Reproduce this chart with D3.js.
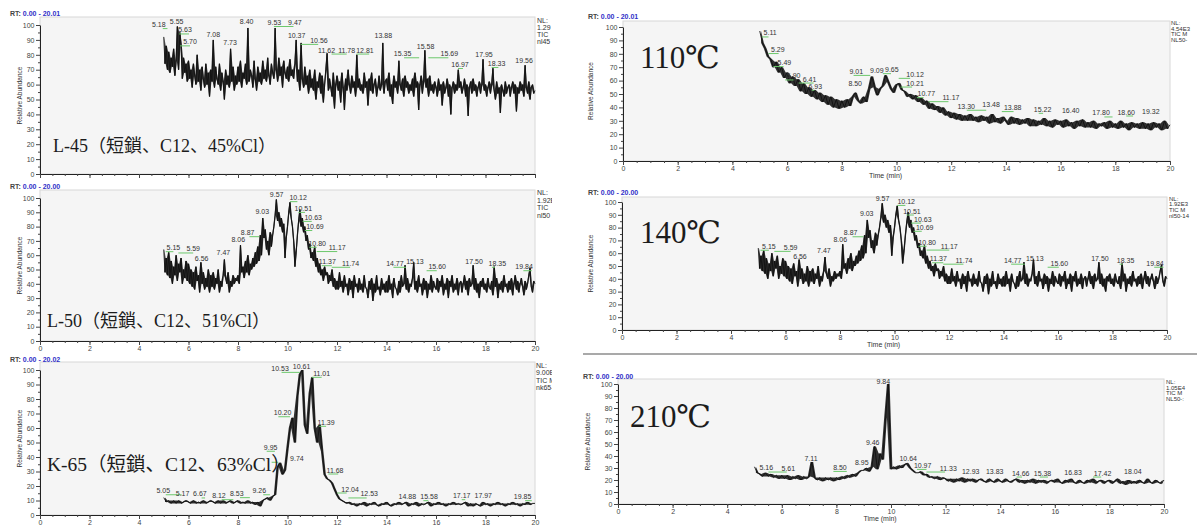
<!DOCTYPE html>
<html>
<head>
<meta charset="utf-8">
<script src="https://cdn.jsdelivr.net/npm/d3@7"></script>
<style>
  body { margin: 0; background: #fff; }
  svg { display: block; }
</style>
</head>
<body>
<svg id="fig"></svg>
<script>
// scan grids (min): the noisy L-series are read every 0.05 min, the rest every 0.1 min
const fineTimes = d3.range(500, 2001, 5).map(d => d / 100);
const coarseTimes = d3.range(50, 201).map(d => d / 10);

const xTicks = [0, 2, 4, 6, 8, 10, 12, 14, 16, 18, 20];
const yTicks = [0, 10, 20, 30, 40, 50, 60, 70, 80, 90, 100];

// TIC traces (relative abundance, %), one row per minute
const l45 = [
  92, 74, 86, 70, 82, 68, 78, 72, 84, 66, 76, 99, 70, 95, 87, 64, 78, 68, 74, 62,
  76, 64, 70, 58, 74, 66, 60, 80, 62, 70, 56, 72, 64, 58, 74, 60, 68, 52, 70, 62,
  90, 58, 72, 64, 60, 74, 56, 68, 62, 50, 70, 60, 66, 58, 84, 62, 72, 56, 66, 60,
  72, 62, 76, 58, 68, 64, 74, 60, 98, 62, 70, 66, 58, 76, 64, 56, 72, 62, 68, 60,
  76, 64, 70, 62, 78, 66, 60, 74, 68, 64, 98, 70, 62, 78, 66, 72, 58, 76, 68, 64,
  72, 62, 77, 66, 70, 64, 74, 90, 62, 70, 56, 88, 64, 58, 72, 60, 66, 54, 70, 58,
  64, 56, 70, 50, 62, 58, 68, 54, 66, 48, 60, 70, 81, 56, 64, 58, 52, 68, 44, 60,
  66, 56, 62, 48, 68, 58, 43, 64, 56, 70, 60, 54, 66, 58, 62, 52, 80, 58, 64, 56,
  60, 54, 68, 58, 62, 46, 64, 56, 68, 54, 60, 64, 52, 58, 66, 56, 60, 88, 54, 62,
  64, 56, 68, 52, 60, 47, 66, 58, 62, 54, 76, 60, 56, 64, 52, 66, 58, 62, 54, 60,
  56, 64, 52, 68, 58, 62, 43, 60, 66, 54, 62, 83, 58, 64, 52, 66, 56, 60, 54, 62,
  58, 52, 64, 56, 60, 46, 62, 54, 58, 64, 52, 60, 40, 58, 62, 54, 60, 56, 70, 58,
  62, 54, 58, 64, 52, 60, 39, 58, 62, 54, 64, 56, 60, 52, 58, 62, 54, 60, 77, 56,
  60, 52, 58, 62, 54, 60, 71, 56, 50, 62, 54, 58, 41, 60, 56, 52, 62, 54, 58, 60,
  52, 58, 62, 54, 60, 42, 58, 54, 62, 56, 60, 52, 73, 58, 54, 62, 50, 58, 60, 54,
  56];

// L-50 (the same run is pasted again as 140℃)
const l50 = [
  64, 48, 58, 46, 62, 44, 56, 40, 52, 46, 60, 42, 54, 48, 58, 40, 50, 44, 56, 42,
  54, 40, 50, 38, 48, 36, 52, 42, 46, 34, 55, 40, 48, 36, 44, 38, 50, 34, 46, 38,
  48, 36, 44, 40, 50, 34, 42, 38, 46, 57, 44, 40, 48, 34, 42, 38, 46, 40, 44, 42,
  46, 40, 67, 48, 52, 44, 56, 48, 60, 46, 54, 50, 58, 52, 62, 54, 66, 56, 74, 60,
  86, 72, 78, 64, 70, 60, 76, 66, 74, 80, 88, 99, 84, 90, 80, 86, 76, 82, 58, 72,
  80, 90, 97, 86, 80, 70, 52, 62, 74, 84, 92, 80, 86, 76, 80, 70, 74, 64, 68, 58,
  62, 56, 66, 52, 58, 48, 54, 46, 50, 42, 52, 46, 48, 40, 46, 42, 50, 38, 44, 36,
  42, 36, 48, 38, 42, 34, 46, 38, 40, 32, 44, 36, 42, 30, 46, 38, 40, 34, 44, 36,
  40, 34, 46, 38, 36, 30, 42, 36, 44, 28, 40, 34, 46, 36, 38, 32, 44, 36, 40, 34,
  42, 34, 46, 36, 40, 30, 44, 38, 36, 32, 42, 34, 46, 38, 40, 53, 36, 44, 34, 40,
  38, 44, 55, 36, 42, 34, 46, 38, 40, 32, 44, 36, 42, 30, 40, 36, 46, 34, 42, 38,
  36, 44, 34, 42, 38, 46, 32, 40, 36, 44, 30, 42, 38, 46, 34, 40, 36, 44, 32, 40,
  42, 34, 40, 46, 36, 42, 32, 44, 38, 40, 53, 36, 44, 34, 40, 30, 42, 38, 44, 36,
  40, 34, 44, 38, 36, 42, 32, 52, 38, 44, 30, 40, 36, 42, 34, 46, 38, 40, 34, 42,
  36, 44, 32, 40, 46, 36, 42, 34, 40, 44, 38, 32, 42, 36, 40, 46, 51, 38, 34, 42,
  40];

const k65 = [
  12, 9, 10, 8, 10, 8, 10, 8, 9, 10,
  9, 8, 10, 8, 9, 8, 10, 8, 9, 10,
  9, 8, 10, 8, 10, 8, 9, 10, 8, 9,
  10, 8, 9, 8, 10, 8, 9, 7, 9, 6,
  10, 11, 12, 10, 13, 14, 33, 36, 28, 31,
  46, 60, 67, 50, 82, 97, 100, 62, 56, 84,
  95, 60, 50, 62, 44, 28, 25, 24, 22, 18,
  14, 11, 10, 9, 8, 9, 7, 8, 6, 8,
  7, 9, 6, 8, 7, 9, 7, 6, 8, 7,
  9, 7, 6, 8, 7, 9, 7, 8, 9, 6,
  8, 7, 9, 6, 8, 7, 8, 9, 6, 8,
  7, 9, 7, 8, 6, 8, 7, 9, 7, 8,
  7, 8, 9, 6, 8, 6, 8, 7, 6, 9,
  7, 8, 6, 8, 7, 9, 7, 8, 6, 8,
  7, 9, 7, 8, 6, 8, 7, 9, 7, 8,
  8];

const t110 = [
  97, 88, 84, 78, 76, 70, 74, 66, 70, 62,
  66, 58, 63, 56, 61, 52, 58, 50, 55, 48,
  53, 46, 51, 44, 49, 42, 48, 40, 46, 39,
  45, 40, 46, 41, 48, 51, 45, 43, 48, 44,
  54, 63, 55, 49, 54, 56, 64, 59, 54, 51,
  57, 58, 53, 52, 48, 50, 46, 49, 44, 47,
  42, 45, 39, 43, 38, 41, 36, 40, 34, 37,
  32, 36, 31, 35, 30, 34, 30, 35, 30, 33,
  29, 34, 30, 33, 28, 35, 29, 32, 28, 33,
  30, 27, 33, 28, 32, 27, 31, 28, 32, 26,
  31, 26, 30, 27, 32, 26, 30, 25, 31, 27,
  30, 25, 31, 26, 29, 24, 30, 26, 31, 25,
  29, 25, 30, 24, 28, 26, 29, 24, 30, 25,
  28, 24, 30, 25, 28, 23, 29, 25, 28, 24,
  29, 24, 28, 23, 29, 25, 28, 23, 30, 24,
  27];

const t210 = [
  31, 26, 25, 23, 26, 23, 25, 22, 24, 21,
  24, 21, 24, 20, 23, 21, 24, 20, 23, 21,
  23, 35, 22, 20, 22, 19, 22, 20, 22, 19,
  22, 20, 23, 21, 24, 22, 25, 23, 26, 28,
  28, 30, 27, 31, 48, 29, 42, 37, 72, 100,
  29, 31, 29, 32, 30, 33, 34, 30, 28, 26,
  26, 27, 24, 25, 22, 23, 21, 23, 20, 22,
  21, 19, 21, 18, 21, 19, 22, 18, 21, 19,
  21, 18, 20, 21, 19, 18, 21, 19, 18, 21,
  19, 18, 21, 19, 18, 20, 21, 18, 20, 17,
  20, 18, 21, 17, 20, 18, 20, 17, 19, 20,
  18, 21, 18, 17, 20, 18, 21, 18, 17, 20,
  18, 17, 20, 18, 21, 17, 19, 20, 17, 19,
  20, 17, 19, 21, 17, 19, 16, 20, 17, 19,
  17, 20, 18, 17, 21, 18, 17, 20, 18, 17,
  20];

// peak labels: [text, label time, label height, green mark from, green mark to]
const l45Peaks = [
  ["5.18", 4.80, 98.6, 4.96, 5.15], ["5.55", 5.52, 101], ["5.63", 5.86, 95, 5.62, 6.02],
  ["5.70", 6.06, 87, 5.66, 6.06], ["7.08", 7.00, 92], ["7.73", 7.68, 86.6], ["8.40", 8.35, 101],
  ["9.53", 9.47, 100, 9.45, 10.24], ["9.47", 10.30, 100], ["10.37", 10.37, 91.6],
  ["10.56", 11.27, 88, 10.53, 11.24], ["11.62", 11.58, 81.5], ["11.78", 12.39, 81.5, 11.78, 12.39],
  ["12.81", 13.13, 81.5, 12.79, 13.30], ["13.88", 13.87, 91], ["15.35", 14.65, 79, 14.71, 15.32],
  ["15.58", 15.58, 84], ["15.69", 16.54, 79, 15.69, 16.50], ["16.97", 16.97, 71.8, 16.89, 17.09],
  ["17.95", 17.94, 78.2], ["18.33", 18.45, 72.5, 18.25, 18.52], ["19.56", 19.56, 74.5]
];

const l50Peaks = [
  ["5.15", 5.39, 63.5, 5.08, 5.39], ["5.59", 6.19, 62.6, 5.59, 6.19], ["6.56", 6.53, 55.6],
  ["7.47", 7.41, 60.3], ["8.06", 8.01, 68.9], ["8.87", 8.39, 74, 8.46, 8.86], ["9.03", 8.98, 89],
  ["9.57", 9.56, 101], ["10.12", 10.43, 98.5, 10.1, 10.4], ["10.51", 10.64, 91, 10.44, 10.71],
  ["10.63", 11.04, 84.7, 10.61, 10.98], ["10.69", 11.11, 78.3, 10.7, 11.0],
  ["10.80", 11.2, 66.6, 10.88, 11.18], ["11.17", 12.01, 63.6, 11.18, 12.01],
  ["11.37", 11.61, 53.7, 11.38, 11.79], ["11.74", 12.55, 52.6, 11.79, 12.53],
  ["14.77", 14.34, 52.6, 14.28, 14.79], ["15.13", 15.15, 53.7], ["15.60", 16.05, 50.2, 15.62, 16.03],
  ["17.50", 17.54, 53.7], ["18.35", 18.48, 52.6, 18.26, 18.38], ["19.84", 19.56, 50.2, 19.53, 19.87]
];

const k65Peaks = [
  ["5.05", 4.98, 15, 5.08, 5.72], ["5.17", 5.76, 12.8], ["6.67", 6.46, 12.8, 6.53, 6.67],
  ["8.12", 7.23, 11.6, 7.34, 7.81], ["8.53", 7.95, 13, 8.08, 8.48], ["9.26", 8.86, 15, 9.02, 9.29],
  ["9.74", 10.38, 37.4, 9.36, 9.63], ["9.95", 9.32, 45, 9.16, 9.49], ["10.20", 9.8, 68.8, 9.63, 10.1],
  ["10.53", 9.70, 99.4, 9.76, 10.5], ["10.61", 10.57, 100.5], ["11.01", 11.38, 96, 10.98, 11.38],
  ["11.39", 11.56, 62.2, 11.28, 11.56], ["11.68", 11.92, 29.3, 11.65, 12.05],
  ["12.04", 12.53, 16.2, 12.01, 12.39], ["12.53", 13.3, 12.8, 12.46, 13.2], ["14.88", 14.84, 10.9],
  ["15.58", 15.72, 10.9, 15.49, 15.69], ["17.17", 17.04, 11.6, 17.04, 17.18], ["17.97", 17.91, 11.6],
  ["19.85", 19.5, 10.9, 19.6, 19.87]
];

const t110Peaks = [
  ["5.11", 5.38, 93.7, 5.08, 5.32], ["5.29", 5.66, 81.3, 5.32, 5.69], ["5.49", 5.9, 71.6, 5.5, 5.87],
  ["5.90", 6.24, 61.6, 5.93, 6.24], ["6.41", 6.82, 59.3, 6.42, 6.97], ["6.93", 7.03, 53.9, 6.9, 7.0],
  ["9.01", 8.53, 65, 8.43, 9.04], ["8.50", 8.49, 55.9], ["9.09", 9.28, 65.8],
  ["9.65", 9.83, 66.3, 9.5, 9.8], ["10.12", 10.68, 62.8, 10.08, 10.5], ["10.21", 10.68, 56.3, 10.15, 10.57],
  ["10.77", 11.09, 48.4, 10.74, 10.99], ["11.17", 11.99, 45.4, 11.17, 11.9],
  ["13.30", 12.55, 39, 12.57, 13.28], ["13.48", 13.46, 40.4], ["13.88", 14.25, 38, 13.85, 14.28],
  ["15.22", 15.34, 36.7, 15.2, 15.36], ["16.40", 16.37, 36], ["17.80", 17.48, 34, 17.6, 17.9],
  ["18.60", 18.4, 34.7, 18.4, 18.65], ["19.32", 19.3, 35.2]
];

const t210Peaks = [
  ["5.16", 5.43, 28.4], ["5.61", 6.24, 27.9, 5.51, 6.18], ["7.11", 7.07, 35.7],
  ["8.50", 8.13, 28.4, 7.89, 8.38], ["8.95", 8.93, 32.9], ["9.46", 9.33, 49], ["9.84", 9.72, 99.6],
  ["10.64", 10.63, 35.7], ["10.97", 11.16, 30.1, 10.95, 11.3], ["11.33", 12.1, 27.9, 11.3, 11.98],
  ["12.93", 12.92, 25.1], ["13.83", 13.8, 24.6], ["14.66", 14.75, 23.7, 14.6, 14.8],
  ["15.38", 15.55, 23.7, 15.45, 15.75], ["16.83", 16.67, 24.2], ["17.42", 17.75, 23.7, 17.4, 17.7],
  ["18.04", 18.86, 24.6]
];

// layout of the six pasted chromatograms
const panels = [
  { trace: l45, t: fineTimes, peaks: l45Peaks, col: 0, x0: 40, x1: 535, y100: 25, y0: 174, top: 17,
    rtX: 10, rtY: 16, rt: "0.00 - 20.01", nl: ["NL:", "1.29", "TIC", "nl45"], nlX: 537, nlY: 22.5, nlStep: 7.3, nlSize: 7,
    name: "L-45（短鎖、C12、45%Cl）", nameX: 53, nameY: 152, nameSize: 18, xLabels: false, time: false, yTitleX: 22 },
  { trace: l50, t: fineTimes, peaks: l50Peaks, col: 0, x0: 40, x1: 535, y100: 198, y0: 341, top: 190,
    rtX: 10, rtY: 189, rt: "0.00 - 20.00", nl: ["NL:", "1.92E", "TIC", "nl50"], nlX: 537, nlY: 195, nlStep: 7.5, nlSize: 7,
    name: "L-50（短鎖、C12、51%Cl）", nameX: 47, nameY: 327, nameSize: 18, xLabels: true, time: false, yTitleX: 22 },
  { trace: k65, t: coarseTimes, peaks: k65Peaks, col: 0, x0: 40, x1: 535, y100: 370, y0: 515, top: 362,
    rtX: 10, rtY: 361.5, rt: "0.00 - 20.02", nl: ["NL:", "9.00E", "TIC M", "nk65-"], nlX: 536, nlY: 368, nlStep: 7.3, nlSize: 7,
    name: "K-65（短鎖、C12、63%Cl）", nameX: 47, nameY: 471, nameSize: 19.5, xLabels: true, time: false, yTitleX: 22 },
  { trace: t110, t: coarseTimes, peaks: t110Peaks, col: 1, x0: 623, x1: 1170, y100: 27, y0: 161, top: 21,
    rtX: 588, rtY: 19, rt: "0.00 - 20.01", nl: ["NL:", "4.54E3", "TIC M", "NL50-"], nlX: 1171, nlY: 25, nlStep: 5.7, nlSize: 6,
    name: "110℃", nameX: 640, nameY: 68, nameSize: 31, xLabels: true, time: true, yTitleX: 593 },
  { trace: l50, t: fineTimes, peaks: l50Peaks, col: 1, x0: 622, x1: 1167, y100: 202, y0: 330, top: 197,
    rtX: 588, rtY: 195, rt: "0.00 - 20.00", nl: ["NL:", "1.92E3", "TIC M", "nl50-14"], nlX: 1169, nlY: 200.5, nlStep: 5.8, nlSize: 6,
    name: "140℃", nameX: 640, nameY: 243, nameSize: 31, xLabels: true, time: true, yTitleX: 593 },
  { trace: t210, t: coarseTimes, peaks: t210Peaks, col: 1, x0: 618, x1: 1164, y100: 384, y0: 504, top: 379,
    rtX: 583, rtY: 378.5, rt: "0.00 - 20.00", nl: ["NL:", "1.05E4", "TIC M", "NL50-:"], nlX: 1166, nlY: 384, nlStep: 5.5, nlSize: 6,
    name: "210℃", nameX: 630, nameY: 427, nameSize: 31, xLabels: true, time: true, yTitleX: 590 }
];

const W = 1197, H = 527;
const sans = "'Liberation Sans', Arial, sans-serif";
const serif = "'Liberation Serif', 'DejaVu Serif', 'Noto Sans CJK JP', serif";

const svg = d3.select("#fig").attr("width", W).attr("height", H);
svg.append("rect").attr("width", W).attr("height", H).attr("fill", "#fff");

// the left column is cropped a little past its plots
svg.append("clipPath").attr("id", "leftClip")
  .append("rect").attr("x", 0).attr("y", 0).attr("width", 552).attr("height", H);

const cols = [
  svg.append("g").attr("clip-path", "url(#leftClip)"),
  svg.append("g")
];

// grey rule between the 140 and 210 pictures
cols[1].append("line")
  .attr("x1", 583).attr("x2", W).attr("y1", 354).attr("y2", 354)
  .attr("stroke", "#8c8c8c").attr("stroke-width", 1.5);

panels.forEach(p => {
  const g = cols[p.col].append("g");
  const x = d3.scaleLinear().domain([0, 20]).range([p.x0, p.x1]);
  const y = d3.scaleLinear().domain([0, 100]).range([p.y0, p.y100]);

  // plot frame
  g.append("rect")
    .attr("x", p.x0).attr("y", p.top)
    .attr("width", p.x1 - p.x0).attr("height", p.y0 - p.top)
    .attr("fill", "#f5f5f5").attr("stroke", "#d8d8d8");

  // trace: min/max envelope of neighbouring scans, then the scan line itself
  const pts = p.trace.map((v, i) => [p.t[i], v]);
  const band = d3.area()
    .x(d => x((d[0][0] + d[1][0]) / 2))
    .y0(d => y(Math.min(d[0][1], d[1][1])))
    .y1(d => y(Math.max(d[0][1], d[1][1])));
  g.append("path").datum(d3.pairs(pts))
    .attr("d", band)
    .attr("fill", "#151515").attr("fill-opacity", 0.88);
  g.append("path").datum(pts)
    .attr("d", d3.line().x(d => x(d[0])).y(d => y(d[1])))
    .attr("fill", "none").attr("stroke", "#111").attr("stroke-width", 0.9);

  // peak labels with their green marks
  p.peaks.forEach(d => {
    if (d.length > 3) {
      g.append("line")
        .attr("x1", x(d[3])).attr("x2", x(d[4]))
        .attr("y1", y(d[2]) + 1.5).attr("y2", y(d[2]) + 1.5)
        .attr("stroke", "#6cc86c").attr("stroke-width", 1);
    }
    g.append("text")
      .attr("x", x(d[1])).attr("y", y(d[2]))
      .attr("text-anchor", "middle")
      .attr("font-family", sans).attr("font-size", 7).attr("fill", "#333")
      .text(d[0]);
  });

  // y axis, major + minor ticks
  const yAxis = g.append("g").attr("transform", `translate(${p.x0},0)`)
    .call(d3.axisLeft(y).tickValues(yTicks).tickSize(4).tickSizeOuter(0).tickPadding(1.5));
  g.append("g").attr("transform", `translate(${p.x0},0)`)
    .call(d3.axisLeft(y).tickValues(d3.range(5, 100, 10)).tickSize(2).tickFormat(""))
    .select(".domain").remove();

  // x axis, major + minor ticks
  const xAxis = g.append("g").attr("transform", `translate(0,${p.y0})`)
    .call(d3.axisBottom(x).tickValues(xTicks).tickSize(4).tickSizeOuter(0).tickPadding(1.5)
      .tickFormat(p.xLabels ? d3.format("d") : ""));
  g.append("g").attr("transform", `translate(0,${p.y0})`)
    .call(d3.axisBottom(x).tickValues(d3.range(0.5, 20, 0.5)).tickSize(2).tickFormat(""))
    .select(".domain").remove();

  [yAxis, xAxis].forEach(a => {
    a.attr("font-family", sans).attr("font-size", 7);
    a.selectAll("text").attr("fill", "#444");
    a.select(".domain").attr("stroke", "#222");
  });
  g.selectAll(".tick line").attr("stroke", "#444");

  // axis titles
  g.append("text")
    .attr("transform", `translate(${p.yTitleX},${(p.top + p.y0) / 2}) rotate(-90)`)
    .attr("text-anchor", "middle")
    .attr("font-family", sans).attr("font-size", 6.5).attr("fill", "#333")
    .text("Relative Abundance");
  if (p.time) {
    g.append("text")
      .attr("x", p.x0 + 0.48 * (p.x1 - p.x0)).attr("y", p.y0 + 17)
      .attr("text-anchor", "middle")
      .attr("font-family", sans).attr("font-size", 7).attr("fill", "#333")
      .text("Time (min)");
  }

  // RT range header
  const rt = g.append("text")
    .attr("x", p.rtX).attr("y", p.rtY)
    .attr("font-family", sans).attr("font-size", 7).attr("font-weight", "bold");
  rt.append("tspan").attr("fill", "#444").text("RT: ");
  rt.append("tspan").attr("fill", "#3030c8").text(p.rt);

  // NL block at the right edge
  p.nl.forEach((s, i) => {
    g.append("text")
      .attr("x", p.nlX).attr("y", p.nlY + i * p.nlStep)
      .attr("font-family", sans).attr("font-size", p.nlSize).attr("fill", "#333")
      .text(s);
  });

  // sample / temperature caption
  g.append("text")
    .attr("x", p.nameX).attr("y", p.nameY)
    .attr("font-family", serif).attr("font-size", p.nameSize).attr("fill", "#1c1c1c")
    .text(p.name);
});
</script>
</body>
</html>
